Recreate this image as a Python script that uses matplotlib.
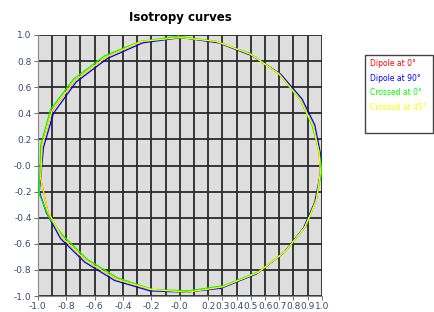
import matplotlib
matplotlib.use("Agg")
import matplotlib.pyplot as plt
from matplotlib.patches import Rectangle

# Isotropy curves (clockwise from the top)
dip0_x = [0.00, 0.26, 0.50, 0.70, 0.85, 0.94, 0.98, 0.99, 0.96, 0.88, 0.74, 0.55, 0.30,
          0.05, -0.20, -0.45, -0.66, -0.83, -0.93, -0.98, -0.97, -0.90, -0.74, -0.52, -0.27, 0.00]
dip0_y = [0.98, 0.95, 0.85, 0.70, 0.50, 0.30, 0.10, -0.05, -0.27, -0.47, -0.66, -0.82, -0.93,
          -0.97, -0.95, -0.87, -0.73, -0.55, -0.35, -0.10, 0.15, 0.42, 0.65, 0.83, 0.95, 0.98]

dip90_x = [0.01, 0.27, 0.51, 0.71, 0.86, 0.95, 0.99, 0.99, 0.95, 0.87, 0.73, 0.54, 0.29,
           0.04, -0.21, -0.46, -0.67, -0.84, -0.94, -0.99, -0.96, -0.89, -0.73, -0.51, -0.26, 0.01]
dip90_y = [0.98, 0.94, 0.84, 0.70, 0.51, 0.31, 0.09, -0.06, -0.28, -0.48, -0.67, -0.83, -0.94,
           -0.97, -0.96, -0.88, -0.74, -0.56, -0.36, -0.20, 0.14, 0.40, 0.64, 0.82, 0.94, 0.98]

crs0_x = [-0.01, 0.25, 0.49, 0.69, 0.84, 0.93, 0.98, 1.00, 0.96, 0.89, 0.75, 0.56, 0.31,
          0.06, -0.19, -0.44, -0.65, -0.82, -0.92, -0.99, -0.98, -0.91, -0.75, -0.53, -0.28, -0.01]
crs0_y = [0.99, 0.95, 0.86, 0.71, 0.52, 0.31, 0.11, -0.04, -0.26, -0.46, -0.65, -0.81, -0.92,
          -0.96, -0.95, -0.86, -0.72, -0.54, -0.40, -0.22, 0.16, 0.43, 0.66, 0.84, 0.95, 0.99]

crs45_x = [0.00, 0.26, 0.50, 0.70, 0.85, 0.94, 0.98, 0.99, 0.96, 0.88, 0.74, 0.55, 0.30,
           0.05, -0.20, -0.45, -0.66, -0.83, -0.93, -0.98, -0.97, -0.90, -0.74, -0.52, -0.27, 0.00]
crs45_y = [0.98, 0.95, 0.85, 0.70, 0.50, 0.30, 0.10, -0.05, -0.27, -0.47, -0.66, -0.82, -0.93,
           -0.97, -0.95, -0.87, -0.73, -0.55, -0.35, -0.10, 0.15, 0.42, 0.65, 0.83, 0.95, 0.98]

series_names = ["Dipole at 0°", "Dipole at 90°", "Crossed at 0°", "Crossed at 45°"]
series_colors = ["#ff0000", "#0000ff", "#00ff00", "#ffff00"]

x_ticks = [-1.0, -0.8, -0.6, -0.4, -0.2, 0.0, 0.2, 0.3, 0.4, 0.5, 0.6, 0.7, 0.8, 0.9, 1.0]
x_labels = ["-1.0", "-0.8", "-0.6", "-0.4", "-0.2", "-0.0",
            "0.2", "0.3", "0.4", "0.5", "0.6", "0.7", "0.8", "0.9", "1.0"]
y_ticks = [1.0, 0.8, 0.6, 0.4, 0.2, 0.0, -0.2, -0.4, -0.6, -0.8, -1.0]
y_labels = ["1.0", "0.8", "0.6", "0.4", "0.2", "-0.0", "-0.2", "-0.4", "-0.6", "-0.8", "-1.0"]
grid_x = [-1.0 + 0.1 * i for i in range(21)]

fig = plt.figure(figsize=(4.35, 3.12), dpi=100)
ax = fig.add_axes([0.087, 0.051, 0.653, 0.837])
ax.set_facecolor("#dedede")

# grid: every 0.1 in x, every 0.2 in y
for gx in grid_x:
    ax.axvline(gx, color="#2a2a2a", lw=1.3, zorder=1)
for gy in y_ticks:
    ax.axhline(gy, color="#2a2a2a", lw=1.3, zorder=1)

data = [(dip0_x, dip0_y), (dip90_x, dip90_y), (crs0_x, crs0_y), (crs45_x, crs45_y)]
for (xs, ys), c in zip(data, series_colors):
    ax.plot(xs, ys, color=c, lw=0.9, zorder=3)

ax.set_xlim(-1.0, 1.0)
ax.set_ylim(-1.0, 1.0)
ax.set_xticks(x_ticks)
ax.set_xticklabels(x_labels)
ax.set_yticks(y_ticks)
ax.set_yticklabels(y_labels)
ax.tick_params(labelsize=6.5, colors="#555555", length=3, width=0.6, pad=1.5)
for lab in ax.get_xticklabels() + ax.get_yticklabels():
    lab.set_color("#3a4a6a")
for s in ["top", "right"]:
    ax.spines[s].set_visible(False)
for s in ["left", "bottom"]:
    ax.spines[s].set_color("#888888")
    ax.spines[s].set_linewidth(0.8)

fig.text(0.415, 0.945, "Isotropy curves", ha="center", va="center",
         fontsize=8.5, fontweight="bold")

# legend box with coloured labels only
fig.patches.append(Rectangle((0.839, 0.574), 0.156, 0.250, transform=fig.transFigure,
                             facecolor="white", edgecolor="#444444", lw=1.0))
leg_y = [0.795, 0.747, 0.705, 0.654]
for name, c, yy in zip(series_names, series_colors, leg_y):
    fig.text(0.850, yy, name, color=c, fontsize=5.5, va="center", ha="left")

fig.savefig("out.png", dpi=100)
